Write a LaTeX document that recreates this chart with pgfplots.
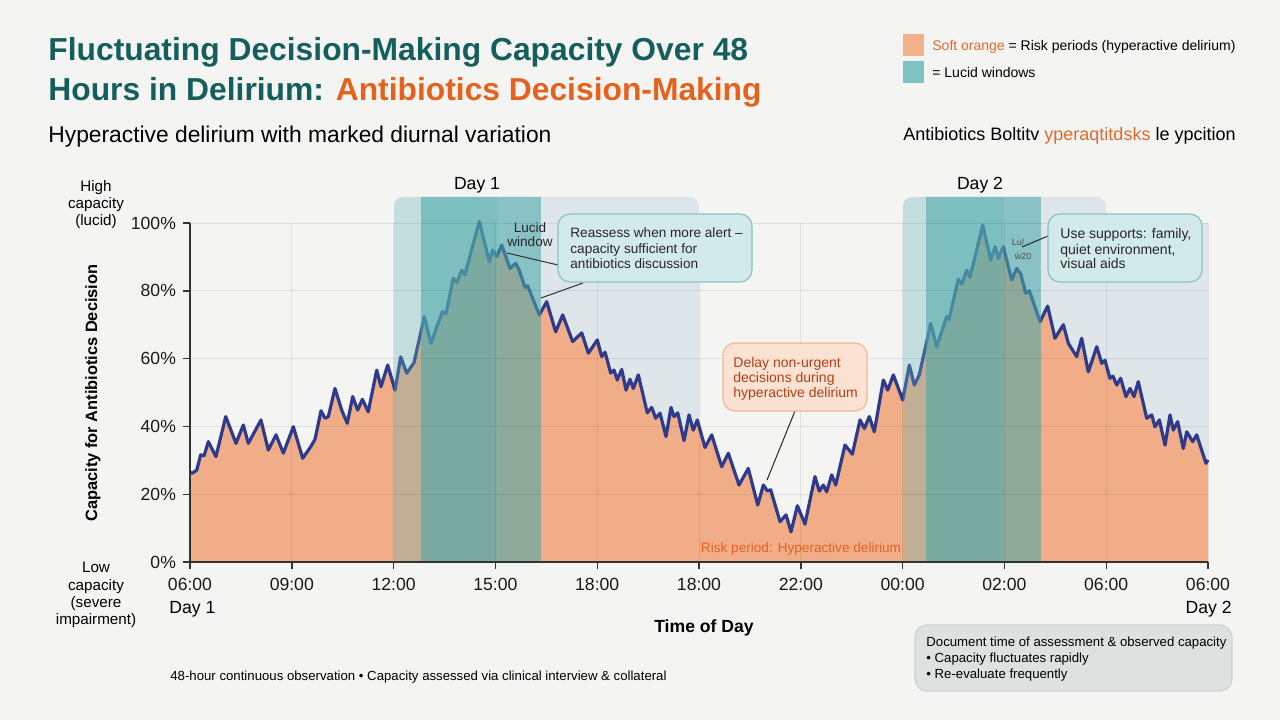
\documentclass[border=0pt]{standalone}
\usepackage{pgfplots}
\pgfplotsset{compat=1.18}
\usepackage{fontspec}
\setmainfont{Liberation Sans}
\newcommand\fs[1]{\fontsize{#1}{#1}\selectfont}
\definecolor{bgcol}{HTML}{F4F4F3}
\definecolor{titleteal}{HTML}{145F5C}
\definecolor{titleorange}{HTML}{E4621B}
\definecolor{orfill}{HTML}{F0AD87}
\definecolor{lineblue}{HTML}{2E3A8C}
\definecolor{tlight}{RGB}{100,180,180}
\definecolor{tdark}{RGB}{74,169,169}
\definecolor{grayblue}{RGB}{222,230,234}
\definecolor{legor}{HTML}{F2B08B}
\definecolor{legteal}{HTML}{7CC3C2}
\definecolor{legtext}{HTML}{E06A2A}
\definecolor{cfill}{HTML}{D2EBEA}
\definecolor{cborder}{HTML}{86C3C3}
\definecolor{dfill}{HTML}{FBE2D2}
\definecolor{dborder}{HTML}{F0B896}
\definecolor{dtext}{HTML}{B2401A}
\definecolor{risktext}{HTML}{E8611E}
\definecolor{bfill}{HTML}{DDE2E1}
\definecolor{bborder}{HTML}{CCD3D2}
\pgfplotstableread{
x y
0 26.5
0.023 26.2
0.066 27.1
0.105 31.6
0.138 31.3
0.180 35.5
0.255 31.1
0.351 42.9
0.452 35.0
0.524 40.4
0.573 35.0
0.697 41.9
0.769 33.0
0.845 37.5
0.917 32.1
1.015 39.9
1.107 30.6
1.186 34.0
1.228 36.2
1.287 44.6
1.326 42.4
1.359 42.9
1.424 51.2
1.490 44.8
1.545 40.9
1.598 48.8
1.647 44.8
1.693 48.0
1.751 44.3
1.834 56.6
1.876 51.7
1.942 58.1
2.014 50.7
2.070 60.5
2.129 55.7
2.200 58.8
2.302 72.4
2.367 64.5
2.478 73.8
2.515 73.2
2.586 83.7
2.623 82.5
2.669 86.1
2.701 84.8
2.842 100.5
2.940 88.6
2.973 92.0
3.013 90.1
3.062 93.5
3.143 86.6
3.199 88.1
3.235 86.0
3.291 81.0
3.317 81.5
3.431 72.9
3.504 76.8
3.592 67.9
3.661 72.9
3.759 65.0
3.848 67.6
3.913 61.6
4.001 65.5
4.044 60.6
4.077 61.9
4.133 55.7
4.165 56.6
4.197 53.7
4.241 56.8
4.283 50.7
4.322 53.9
4.355 51.2
4.404 55.2
4.492 44.0
4.535 45.6
4.575 42.4
4.617 43.9
4.676 37.0
4.725 45.6
4.754 42.9
4.791 44.0
4.853 35.8
4.902 43.4
4.944 38.9
4.983 41.9
5.059 33.8
5.125 37.5
5.223 28.1
5.288 32.1
5.393 22.7
5.484 27.6
5.577 16.8
5.632 22.7
5.671 21.0
5.704 21.3
5.796 11.9
5.855 13.9
5.904 8.9
5.966 16.6
6.041 11.2
6.139 25.2
6.182 20.9
6.221 22.7
6.254 20.7
6.304 25.7
6.343 22.7
6.434 34.5
6.506 31.8
6.582 41.9
6.624 39.4
6.673 42.9
6.722 38.4
6.811 53.7
6.854 50.7
6.909 55.2
7.001 47.8
7.066 58.1
7.115 52.2
7.164 55.2
7.276 70.4
7.335 63.5
7.433 72.4
7.456 71.5
7.547 83.4
7.583 82.0
7.630 86.1
7.662 84.0
7.787 99.4
7.865 89.1
7.908 93.0
7.940 89.6
7.989 93.0
8.072 83.2
8.121 86.6
8.160 85.0
8.209 79.3
8.245 80.0
8.350 70.9
8.425 75.5
8.497 66.0
8.579 70.0
8.628 64.5
8.710 60.6
8.759 66.0
8.824 56.1
8.907 63.5
8.956 58.6
8.988 59.5
9.037 54.2
9.067 54.8
9.103 52.2
9.142 54.2
9.194 48.8
9.234 51.2
9.273 48.8
9.315 53.2
9.398 42.4
9.447 43.4
9.479 39.9
9.522 41.9
9.578 34.5
9.627 43.4
9.659 38.9
9.702 41.4
9.757 33.5
9.791 38.4
9.850 35.5
9.889 37.5
9.980 29.1
10.0 30.1
}\capdata
\begin{document}
\begin{tikzpicture}
\begin{scope}[x=0.5pt,y=-0.5pt,yshift=360pt]
\fill[bgcol] (0,0) rectangle (1280,720);
\end{scope}
\begin{axis}[
  at={(95pt,79pt)}, anchor=south west,
  scale only axis, width=509pt, height=169.5pt,
  xmin=0, xmax=10, ymin=0, ymax=100,
  axis x line*=bottom, axis y line*=left,
  axis line style={-, draw=black!80, line width=0.9pt},
  xtick={0,1,...,10},
  xticklabels={06:00,09:00,12:00,15:00,18:00,18:00,22:00,00:00,02:00,06:00,06:00},
  ytick={0,20,...,100},
  yticklabels={0\%,20\%,40\%,60\%,80\%,100\%},
  tick align=outside, major tick length=3.5pt,
  tick style={draw=black!80, line width=0.7pt},
  grid=major, major grid style={draw=black, opacity=0.08, line width=0.5pt},
  tick label style={font=\fs{8.8}, text=black!90},
  xticklabel style={yshift=-1pt},
  clip=false, axis on top,
]
% gray-blue post-lucid regions (behind)
\begin{scope}
\clip (axis cs:0,0) rectangle (axis cs:10,120);
\clip[rounded corners=5pt] (axis cs:2,-5) rectangle (axis cs:5,107.7);
\fill[grayblue] (axis cs:3.02,0) rectangle (axis cs:5,110);
\end{scope}
\begin{scope}
\clip (axis cs:0,0) rectangle (axis cs:10,120);
\clip[rounded corners=5pt] (axis cs:7,-5) rectangle (axis cs:9,107.7);
\fill[grayblue] (axis cs:8.0,0) rectangle (axis cs:9,110);
\end{scope}
\fill[grayblue] (axis cs:9,0) rectangle (axis cs:10,100);
% curve
\addplot[fill=orfill, draw=none] table[x=x,y=y] {\capdata} \closedcycle;
\addplot[draw=lineblue, line width=1.6pt, line join=round, mark=none] table[x=x,y=y] {\capdata};
% lucid overlays
\begin{scope}
\clip (axis cs:0,0) rectangle (axis cs:10,120);
\clip[rounded corners=5pt] (axis cs:2,-5) rectangle (axis cs:5,107.7);
\fill[tlight, opacity=0.33] (axis cs:2,0) rectangle (axis cs:3.02,110);
\fill[tdark, opacity=0.58] (axis cs:2.27,0) rectangle (axis cs:3.45,110);
\end{scope}
\begin{scope}
\clip (axis cs:0,0) rectangle (axis cs:10,120);
\clip[rounded corners=5pt] (axis cs:7,-5) rectangle (axis cs:9,107.7);
\fill[tlight, opacity=0.33] (axis cs:7,0) rectangle (axis cs:8.0,110);
\fill[tdark, opacity=0.58] (axis cs:7.23,0) rectangle (axis cs:8.36,110);
\end{scope}
\end{axis}
\begin{scope}[x=0.5pt,y=-0.5pt,yshift=360pt]
% titles
\node[anchor=base west, inner sep=0, font=\bfseries\fs{15.9}, text=titleteal] at (48,60) {Fluctuating Decision-Making Capacity Over 48};
\node[anchor=base west, inner sep=0, font=\bfseries\fs{15.9}] at (48,100) {\textcolor{titleteal}{Hours in Delirium:} \textcolor{titleorange}{Antibiotics Decision-Making}};
\node[anchor=base west, inner sep=0, font=\fs{11.4}] at (48,142) {Hyperactive delirium with marked diurnal variation};
% legend
\fill[legor] (903,34) rectangle (924,56);
\fill[legteal] (903,61) rectangle (924,83);
\node[anchor=base west, inner sep=0, font=\fs{7}] at (932,50) {\textcolor{legtext}{Soft orange} = Risk periods (hyperactive delirium)};
\node[anchor=base west, inner sep=0, font=\fs{7}] at (932,77) {= Lucid windows};
\node[anchor=base west, inner sep=0, font=\fs{9}] at (903,140) {Antibiotics Boltitv \textcolor{legtext}{yperaqtitdsks} le ypcition};
% day labels
\node[anchor=base, inner sep=0, font=\fs{8.8}] at (477,189) {Day 1};
\node[anchor=base, inner sep=0, font=\fs{8.8}] at (980,189) {Day 2};
% y side labels
\node[anchor=base, inner sep=0, font=\fs{7.6}] at (96,191) {High};
\node[anchor=base, inner sep=0, font=\fs{7.6}] at (96,208) {capacity};
\node[anchor=base, inner sep=0, font=\fs{7.6}] at (96,225) {(lucid)};
\node[anchor=base, inner sep=0, font=\fs{7.6}] at (96,572) {Low};
\node[anchor=base, inner sep=0, font=\fs{7.6}] at (96,590) {capacity};
\node[anchor=base, inner sep=0, font=\fs{7.6}] at (96,607) {(severe};
\node[anchor=base, inner sep=0, font=\fs{7.6}] at (96,624) {impairment)};
\node[rotate=90, inner sep=0, font=\bfseries\fs{8.2}] at (93,393) {Capacity for Antibiotics Decision};
% x side labels
\node[anchor=base west, inner sep=0, font=\fs{8.8}] at (169,613) {Day 1};
\node[anchor=base east, inner sep=0, font=\fs{8.8}] at (1232,613) {Day 2};
\node[anchor=base, inner sep=0, font=\bfseries\fs{8.8}] at (704,632) {Time of Day};
% lucid window label
\node[anchor=base, inner sep=0, font=\fs{6.8}, text=black!85] at (530,232) {Lucid};
\node[anchor=base, inner sep=0, font=\fs{6.8}, text=black!85] at (530,246) {window};
% callout 1
\draw[black!80, line width=0.5pt] (507,253) -- (558,265);
\draw[black!80, line width=0.5pt] (541,298) -- (583,283);
\draw[draw=cborder, fill=cfill, rounded corners=6pt, line width=0.6pt] (558,214) rectangle (752,282);
\node[anchor=base west, inner sep=0, font=\fs{6.8}, text=black!85] at (570,237) {Reassess when more alert –};
\node[anchor=base west, inner sep=0, font=\fs{6.8}, text=black!85] at (570,253) {capacity sufficient for};
\node[anchor=base west, inner sep=0, font=\fs{6.8}, text=black!85] at (570,268) {antibiotics discussion};
% callout delay
\draw[black!85, line width=0.5pt] (795,411) -- (767,480);
\draw[draw=dborder, fill=dfill, rounded corners=6pt, line width=0.6pt] (723,343) rectangle (867,411);
\node[anchor=base west, inner sep=0, font=\fs{7}, text=dtext] at (733,367) {Delay non-urgent};
\node[anchor=base west, inner sep=0, font=\fs{7}, text=dtext] at (733,382) {decisions during};
\node[anchor=base west, inner sep=0, font=\fs{7}, text=dtext] at (733,397) {hyperactive delirium};
\node[anchor=base, inner sep=0, font=\fs{6.8}, text=risktext] at (801,552) {Risk period: Hyperactive delirium};
% callout supports
\draw[black!85, line width=0.5pt] (1022,247) -- (1048,236);
\node[anchor=base, inner sep=0, font=\fs{4.5}, text=black!70] at (1018,245) {Lu/};
\node[anchor=base, inner sep=0, font=\fs{4.5}, text=black!70] at (1023,259) {ẁ20};
\draw[draw=cborder, fill=cfill, rounded corners=6pt, line width=0.6pt] (1048,214) rectangle (1202,282);
\node[anchor=base west, inner sep=0, font=\fs{7}, text=black!85] at (1060,238) {Use supports: family,};
\node[anchor=base west, inner sep=0, font=\fs{7}, text=black!85] at (1060,254) {quiet environment,};
\node[anchor=base west, inner sep=0, font=\fs{7}, text=black!85] at (1060,268) {visual aids};
% bottom
\node[anchor=base west, inner sep=0, font=\fs{6.6}] at (170,680) {48-hour continuous observation • Capacity assessed via clinical interview \& collateral};
\draw[draw=bborder, fill=bfill, rounded corners=6pt, line width=0.6pt] (915,625) rectangle (1232,691);
\node[anchor=base west, inner sep=0, font=\fs{6.6}] at (926,646) {Document time of assessment \& observed capacity};
\node[anchor=base west, inner sep=0, font=\fs{6.6}] at (926,662) {• Capacity fluctuates rapidly};
\node[anchor=base west, inner sep=0, font=\fs{6.6}] at (926,678) {• Re-evaluate frequently};
\end{scope}
\pgfresetboundingbox
\useasboundingbox (0,0) rectangle (640pt,360pt);
\end{tikzpicture}
\end{document}
